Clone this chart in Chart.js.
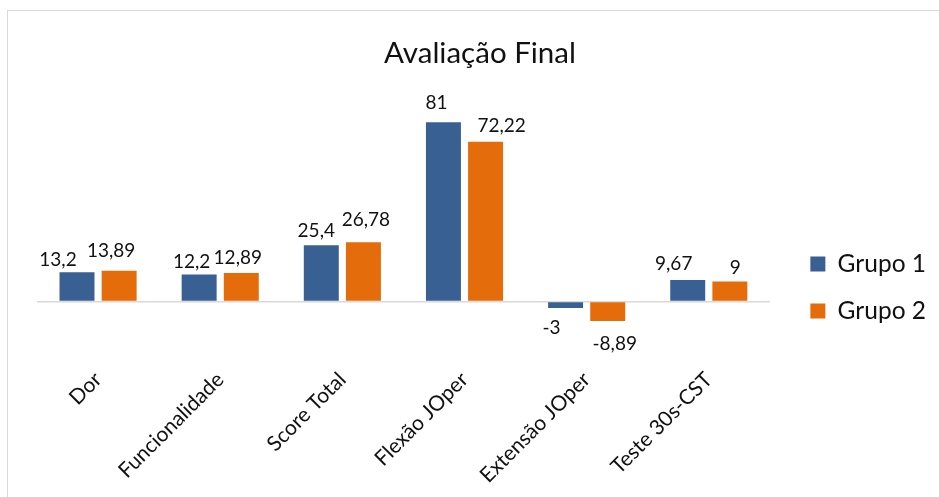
<!DOCTYPE html>
<html>
<head>
<meta charset="utf-8">
<script src="https://cdn.jsdelivr.net/npm/chart.js@4.4.1/dist/chart.umd.min.js"></script>
<style>
    html, body { margin: 0; padding: 0; background: #fff; overflow: hidden; }
    #wrap {
        position: absolute; left: 7px; top: 10px;
        width: 944px; height: 487px;
        border-left: 1px solid #d9d9d9; border-top: 1px solid #d9d9d9;
    }
</style>
</head>
<body>
<div id="wrap"><canvas id="chart"></canvas></div>
<script>
const categorias = ['Dor', 'Funcionalidade', 'Score Total', 'Flexão JOper', 'Extensão JOper', 'Teste 30s-CST'];
const grupo1 = [13.2, 12.2, 25.4, 81, -3, 9.67];
const grupo2 = [13.89, 12.89, 26.78, 72.22, -8.89, 9];

const FONT = 'Lato, "Open Sans", sans-serif';
const TEXT = '#111';

// value labels above (or below) each bar, comma decimals
const valueLabels = {
    id: 'valueLabels',
    afterDatasetsDraw(chart, args, opts) {
        const ctx = chart.ctx;
        ctx.save();
        ctx.font = `${opts.size}px ${FONT}`;
        ctx.fillStyle = TEXT;
        ctx.textAlign = 'center';
        ctx.textBaseline = 'alphabetic';
        chart.data.datasets.forEach((ds, i) => {
            const meta = chart.getDatasetMeta(i);
            meta.data.forEach((bar, j) => {
                const v = ds.data[j];
                const txt = String(v).replace('.', ',');
                const dx = opts.dx[i][j];
                const gap = opts.gap[i][j];
                const y = v >= 0 ? bar.y - gap : bar.y + gap + opts.cap;
                ctx.fillText(txt, bar.x + dx, y);
            });
        });
        ctx.restore();
    }
};

new Chart(document.getElementById('chart'), {
    type: 'bar',
    data: {
        labels: categorias,
        datasets: [
            { label: 'Grupo 1', data: grupo1, backgroundColor: '#386092' },
            { label: 'Grupo 2', data: grupo2, backgroundColor: '#e46c0a' }
        ]
    },
    plugins: [valueLabels],
    options: {
        responsive: true,
        maintainAspectRatio: false,
        animation: false,
        datasets: { bar: { categoryPercentage: 0.69, barPercentage: 0.83 } },
        layout: { padding: { left: 16, right: 16, top: 0, bottom: 8 } },
        scales: {
            x: {
                grid: { display: false },
                border: { display: false },
                ticks: {
                    color: TEXT, font: { family: FONT, size: 21 },
                    minRotation: 45, maxRotation: 45, padding: 2
                }
            },
            y: {
                min: -25.2, max: 90,
                ticks: { display: false, stepSize: 10 },
                border: { display: false },
                grid: {
                    drawTicks: false, lineWidth: 1.5,
                    color: c => c.tick.value === 0 ? '#d9d9d9' : 'rgba(0,0,0,0)'
                },
                afterFit: s => { s.width = 13; }
            },
            // empty spacer between the plot and the legend
            gap: {
                position: 'right', type: 'linear',
                ticks: { display: false },
                grid: { display: false },
                border: { display: false },
                afterFit: s => { s.width = 18; }
            }
        },
        plugins: {
            title: {
                display: true, text: 'Avaliação Final', color: TEXT,
                font: { family: FONT, size: 29.5, weight: 'normal' },
                padding: { top: 25, bottom: 31 }
            },
            legend: {
                position: 'right',
                title: { display: true, text: ' ', font: { size: 10 }, padding: { top: 0, bottom: 62 } },
                labels: {
                    color: TEXT, font: { family: FONT, size: 24.5 },
                    boxWidth: 15, boxHeight: 15, padding: 22.5
                }
            },
            tooltip: { enabled: false },
            valueLabels: {
                size: 19, cap: 13,
                dx: [[-19, -7.5, -5, -7, -14, -14], [-8, -3.5, 2.5, 16, 7, 5.5]],
                gap: [[6, 6, 8, 13, 13, 10], [14, 9, 16, 10, 16, 8]]
            }
        }
    }
});
</script>
</body>
</html>
